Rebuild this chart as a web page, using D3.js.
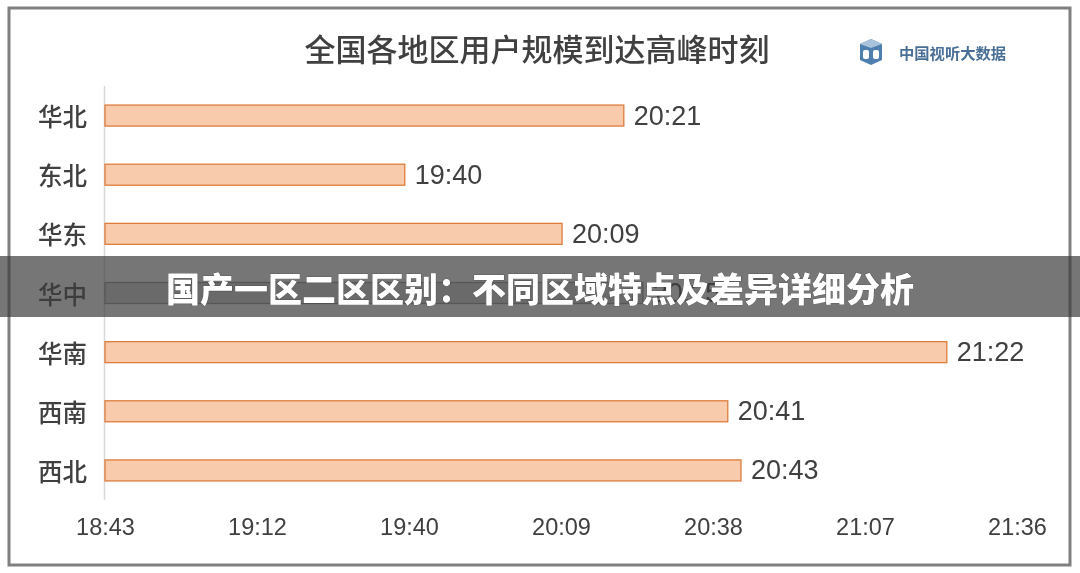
<!DOCTYPE html>
<html>
<head>
<meta charset="utf-8">
<script src="https://cdn.jsdelivr.net/npm/d3@7/dist/d3.min.js"></script>
<style>
  html, body { margin: 0; padding: 0; background: #fff; }
  svg { display: block; }
</style>
</head>
<body>
<svg id="chart" width="1080" height="573"></svg>
<script>
// ---- data ----
const categories = ["华北", "东北", "华东", "华中", "华南", "西南", "西北"];
const peakMinutes = [1221.5, 1180.0, 1209.8, 1225.1, 1282.7, 1241.2, 1243.7];
const peakLabels = ["20:21", "19:40", "20:09", "20:25", "21:22", "20:41", "20:43"];
// axis ticks (fractions of day 0.78 ... 0.90) in minutes, with their labels
const tickMinutes = [1123.2, 1152.0, 1180.8, 1209.6, 1238.4, 1267.2, 1296.0];
const tickLabels = ["18:43", "19:12", "19:40", "20:09", "20:38", "21:07", "21:36"];
const titleText = "全国各地区用户规模到达高峰时刻";
const logoText = "中国视听大数据";
const bannerText = "国产一区二区区别：不同区域特点及差异详细分析";

const svg = d3.select("#chart");
const W = 1080, H = 573;

const x = d3.scaleLinear().domain([1123.2, 1296.0]).range([105, 1017]);
const y = d3.scaleBand().domain(categories).range([86, 500]).paddingInner(0.645).paddingOuter(0.3225);

const cjk = "'Noto Sans CJK SC', 'Noto Sans', sans-serif";
const latin = "'Liberation Sans', Arial, sans-serif";
const textColor = "#404040";

// frame
svg.append("rect").attr("x", 9).attr("y", 8).attr("width", 1061).attr("height", 557)
  .attr("fill", "#fff").attr("stroke", "#808080").attr("stroke-width", 3);

// title
svg.append("text").attr("x", 537).attr("y", 47).attr("text-anchor", "middle")
  .attr("dominant-baseline", "central")
  .style("font-family", cjk).style("font-size", "31px").style("font-weight", 500)
  .attr("fill", textColor).text(titleText);

// logo
const logo = svg.append("g").attr("transform", "translate(858,38)");
logo.append("path").attr("d", "M2,6 L13,1 L24,6 L24,22 L13,27 L2,22 Z").attr("fill", "#4f7fae");
logo.append("path").attr("d", "M2,6 L13,1 L24,6 L13,10 Z").attr("fill", "#a9c3dc");
logo.append("rect").attr("x", 5).attr("y", 12).attr("width", 6).attr("height", 9).attr("rx", 2).attr("fill", "#fff");
logo.append("rect").attr("x", 15).attr("y", 12).attr("width", 6).attr("height", 9).attr("rx", 2).attr("fill", "#fff");
svg.append("text").attr("x", 899).attr("y", 52).attr("dominant-baseline", "central")
  .style("font-family", cjk).style("font-size", "15.3px").style("font-weight", 700)
  .attr("fill", "#4a6f96").text(logoText);

// y axis line
svg.append("line").attr("x1", 104.5).attr("x2", 104.5).attr("y1", 86).attr("y2", 500)
  .attr("stroke", "#d9d9d9").attr("stroke-width", 1.5);

// bars
svg.selectAll("rect.bar").data(categories).join("rect").attr("class", "bar")
  .attr("x", x(1123.2))
  .attr("y", d => y(d))
  .attr("width", (d, i) => x(peakMinutes[i]) - x(1123.2))
  .attr("height", y.bandwidth())
  .attr("fill", "#f8cbad").attr("stroke", "#dd7d3c").attr("stroke-width", 1.3);

// value labels
svg.selectAll("text.val").data(categories).join("text").attr("class", "val")
  .attr("x", (d, i) => x(peakMinutes[i]) + 10)
  .attr("y", d => y(d) + y.bandwidth() / 2)
  .attr("dominant-baseline", "central")
  .style("font-family", latin).style("font-size", "27px")
  .attr("fill", textColor).text((d, i) => peakLabels[i]);

// category labels
svg.selectAll("text.cat").data(categories).join("text").attr("class", "cat")
  .attr("x", 87).attr("y", d => y(d) + y.bandwidth() / 2)
  .attr("text-anchor", "end").attr("dominant-baseline", "central")
  .style("font-family", cjk).style("font-size", "24.5px").style("font-weight", 500)
  .attr("fill", textColor).text(d => d);

// x axis tick labels
const xAxis = d3.axisBottom(x).tickValues(tickMinutes)
  .tickFormat((d, i) => tickLabels[i]).tickSize(0).tickPadding(0);
const gx = svg.append("g").attr("transform", "translate(0,527)").call(xAxis);
gx.select(".domain").remove();
gx.selectAll("text").attr("dy", null).attr("y", 0).attr("dominant-baseline", "central")
  .style("font-family", latin).style("font-size", "23.5px").attr("fill", textColor);

// overlay banner: desaturate underneath, then darken
svg.append("rect").attr("x", 0).attr("y", 256).attr("width", W).attr("height", 61)
  .attr("fill", "#808080").style("mix-blend-mode", "saturation");
svg.append("rect").attr("x", 0).attr("y", 256).attr("width", W).attr("height", 61)
  .attr("fill", "rgb(60,60,60)").attr("fill-opacity", 0.7);
svg.append("text").attr("x", 540).attr("y", 287).attr("text-anchor", "middle")
  .attr("dominant-baseline", "central")
  .style("font-family", cjk).style("font-size", "34px").style("font-weight", 900)
  .attr("fill", "#fff").attr("stroke", "#444").attr("stroke-width", 0.6)
  .attr("paint-order", "stroke").text(bannerText);
</script>
</body>
</html>
